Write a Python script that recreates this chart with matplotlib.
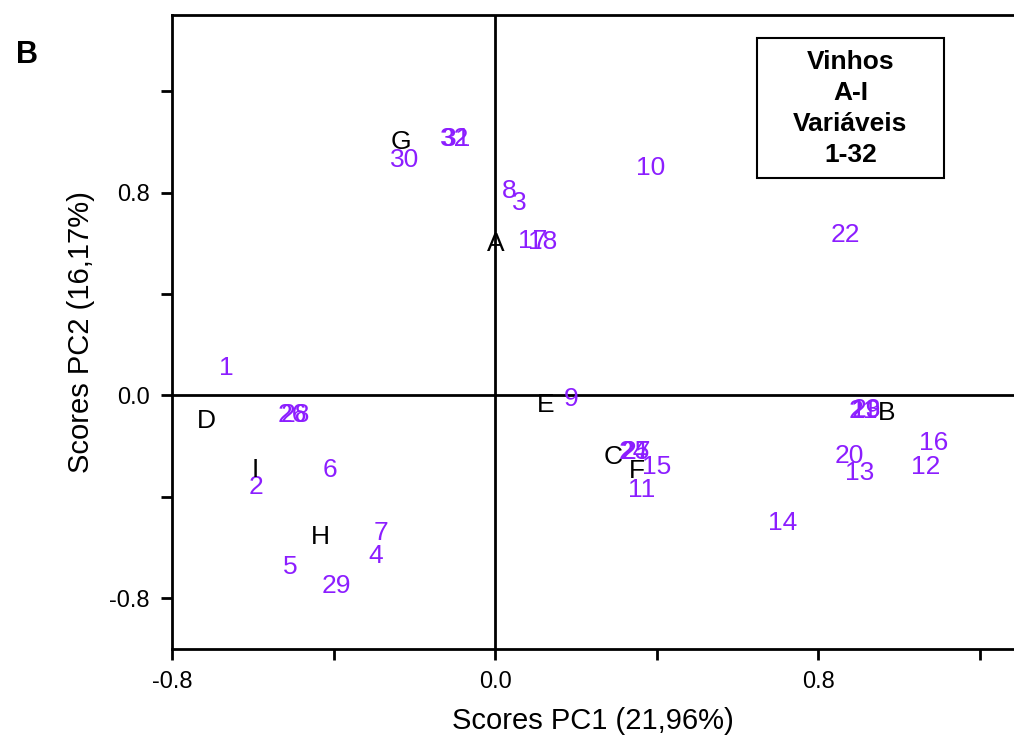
import matplotlib.pyplot as plt
from matplotlib.patches import Rectangle
from matplotlib.ticker import FixedLocator

plt.rcParams['font.family'] = ['Liberation Sans', 'DejaVu Sans']

# wines (A-I) scores
wine_names = ['A', 'B', 'C', 'D', 'E', 'F', 'G', 'H', 'I']
wine_x = [0.003, 0.97, 0.293, -0.716, 0.126, 0.35, -0.233, -0.433, -0.594]
wine_y = [0.596, -0.07, -0.241, -0.099, -0.036, -0.30, 0.998, -0.560, -0.296]

# variables 1-32 scores
var_names = [str(i) for i in range(1, 33)]
var_x = [-0.666, -0.592, 0.059, -0.295, -0.508, -0.409, -0.282, 0.035, 0.189, 0.386,
         0.362, 1.067, 0.903, 0.711, 0.399, 1.085, 0.094, 0.119, 0.918, 0.876,
         0.913, 0.867, 0.919, 0.343, 0.347, -0.503, 0.350, -0.495, -0.392, -0.223,
         -0.094, -0.099]
var_y = [0.107, -0.363, 0.757, -0.635, -0.675, -0.296, -0.544, 0.805, -0.016, 0.895,
         -0.371, -0.284, -0.304, -0.505, -0.284, -0.189, 0.607, 0.603, -0.063, -0.237,
         -0.063, 0.631, -0.058, -0.225, -0.225, -0.079, -0.225, -0.079, -0.753, 0.927,
         1.01, 1.01]

fig = plt.figure(figsize=(10.14, 7.51), dpi=100)
ax = fig.add_axes([0.1696, 0.1358, 0.8304, 0.8442])
ax.set_xlim(-0.8, 1.285)
ax.set_ylim(-1.0, 1.5)

ax.axhline(0, color='black', lw=2)
ax.axvline(0, color='black', lw=2)

purple = '#8c1eff'
for n, x, y in zip(var_names, var_x, var_y):
    ax.text(x, y, n, color=purple, fontsize=19, ha='center', va='center')
for n, x, y in zip(wine_names, wine_x, wine_y):
    ax.text(x, y, n, color='black', fontsize=19, ha='center', va='center')

for s in ['left', 'bottom', 'top']:
    ax.spines[s].set_linewidth(2)
ax.spines['right'].set_visible(False)

ax.set_xticks([-0.8, 0.0, 0.8])
ax.set_yticks([-0.8, 0.0, 0.8])
ax.xaxis.set_minor_locator(FixedLocator([-0.4, 0.4, 1.2]))
ax.yaxis.set_minor_locator(FixedLocator([-0.4, 0.4, 1.2]))
ax.tick_params(which='both', direction='out', length=8, width=2, labelsize=17, pad=8)
ax.xaxis.set_major_formatter(plt.FuncFormatter(lambda v, p: f'{v:.1f}'))
ax.yaxis.set_major_formatter(plt.FuncFormatter(lambda v, p: f'{v:.1f}'))

ax.set_xlabel('Scores PC1 (21,96%)', fontsize=21, labelpad=10)
ax.set_ylabel('Scores PC2 (16,17%)', fontsize=21, labelpad=10)

ax.add_patch(Rectangle((0.649, 0.856), 0.463, 0.552, fc='white', ec='black', lw=1.5, zorder=3))
ax.text(0.880, 1.132, 'Vinhos\nA-I\nVariáveis\n1-32', fontsize=19, fontweight='bold',
        ha='center', va='center', linespacing=1.38, zorder=4)

fig.text(0.027, 0.927, 'B', fontsize=22, fontweight='bold', ha='center', va='center')

fig.savefig('out.png', dpi=100)
